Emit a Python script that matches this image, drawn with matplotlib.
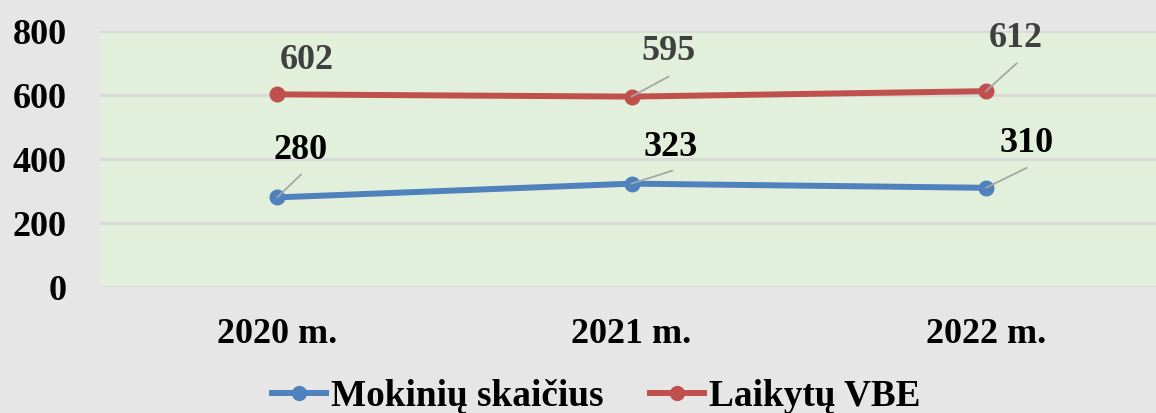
import matplotlib.pyplot as plt
import numpy as np

years = ['2020 m.', '2021 m.', '2022 m.']
mokiniai = [280, 323, 310]
vbe = [602, 595, 612]
series_names = ['Mokinių skaičius', 'Laikytų VBE']

# label offsets in pixels (dx, dy) and leader line ends (None = no leader)
lab_off_m = [(23, 47), (39, 36), (41, 44)]
lead_m = [(24, 23), (41, 13), (41, 20)]
lab_off_v = [(30, 34), (37, 45), (30, 53)]
lead_v = [None, (37, 20), (31, 28)]

plt.rcParams['font.family'] = ['Liberation Serif', 'DejaVu Serif']
plt.rcParams['font.weight'] = 'bold'

dpi = 100
px = 72 / dpi
fs = 26

fig = plt.figure(figsize=(11.56, 4.13), dpi=dpi, facecolor='#E6E6E6')
ax = fig.add_axes([100 / 1156, 1 - 287 / 413, 1063 / 1156, (287 - 31) / 413])
ax.set_facecolor('#E2EFDA')

x = np.arange(len(years))
c_m = '#4F81BD'
c_v = '#C0504D'
ax.plot(x, mokiniai, color=c_m, lw=4.3, marker='o', ms=10.5, label=series_names[0], zorder=3)
ax.plot(x, vbe, color=c_v, lw=4.3, marker='o', ms=10.5, label=series_names[1], zorder=3)

def put_labels(vals, offs, leads, color):
    for xi, v, o, l in zip(x, vals, offs, leads):
        ax.annotate(str(v), (xi, v), xytext=(o[0] * px, o[1] * px), textcoords='offset points',
                    ha='center', va='center', fontsize=fs, fontweight='bold', color=color, zorder=5)
        if l is not None:
            ax.annotate('', (xi, v), xytext=(l[0] * px, l[1] * px), textcoords='offset points',
                        arrowprops=dict(arrowstyle='-', color='#A6A6A6', lw=1.3,
                                        shrinkA=0, shrinkB=0), zorder=4)

put_labels(mokiniai, lab_off_m, lead_m, 'black')
put_labels(vbe, lab_off_v, lead_v, '#404040')

ax.set_ylim(0, 800)
ax.set_yticks(range(0, 801, 200))
ax.set_xlim(-0.5, 2.5)
ax.set_xticks(x)
ax.set_xticklabels(years)
ax.yaxis.grid(True, color='#D9D9D9', lw=2)
ax.set_axisbelow(True)
for s in ax.spines.values():
    s.set_visible(False)
ax.tick_params(axis='both', length=0, labelsize=fs)
ax.tick_params(axis='y', pad=24)
ax.tick_params(axis='x', pad=22)

fig.legend(loc='center', bbox_to_anchor=(596 / 1156, 1 - 397 / 413), ncol=2, frameon=False,
           prop={'size': 26.8, 'weight': 'bold'}, handlelength=1.47, handletextpad=0.12,
           columnspacing=1.25, borderaxespad=0, borderpad=0, markerscale=0.95)

fig.savefig('out.png', dpi=dpi, facecolor=fig.get_facecolor())
